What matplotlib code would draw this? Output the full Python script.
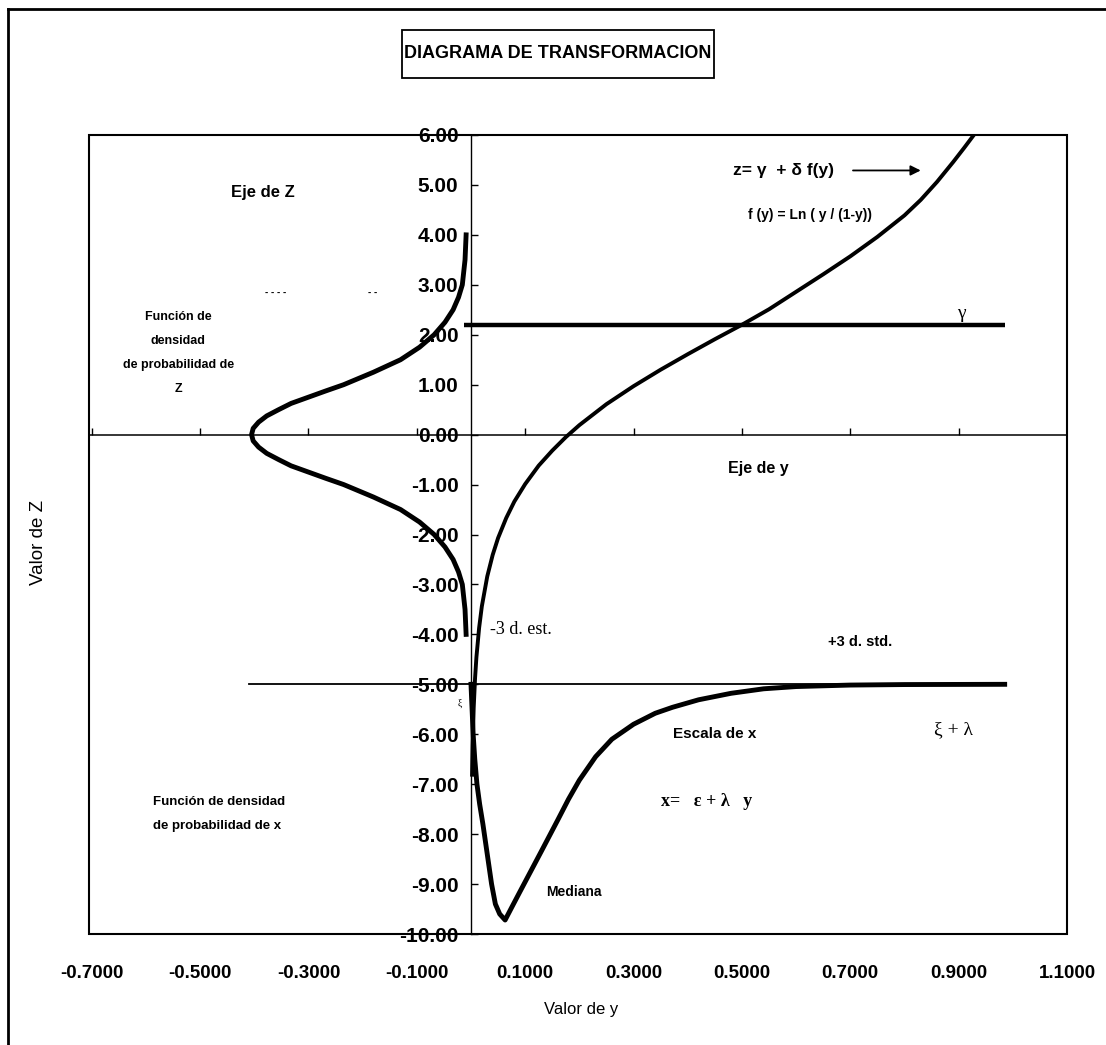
import numpy as np
import matplotlib.pyplot as plt
from matplotlib.lines import Line2D
from matplotlib.patches import Rectangle

SANS = ["Liberation Sans", "DejaVu Sans"]
SERIF = ["Liberation Serif", "DejaVu Serif"]

# ── datos leídos del diagrama ─────────────────────────────────────────────────
# curva de transformación z = γ + δ f(y)
y_trans = [0.002, 0.003, 0.005, 0.0075, 0.01, 0.015, 0.02, 0.03, 0.04, 0.05,
           0.065, 0.08, 0.10, 0.125, 0.15, 0.175, 0.20, 0.25, 0.30, 0.35,
           0.40, 0.45, 0.50, 0.55, 0.60, 0.65, 0.70, 0.75, 0.80, 0.83, 0.86,
           0.89, 0.91, 0.928]
z_trans = [-6.81, -6.22, -5.47, -4.88, -4.46, -3.87, -3.44, -2.84, -2.41, -2.07,
           -1.67, -1.34, -0.99, -0.62, -0.32, -0.05, 0.19, 0.61, 0.97, 1.30,
           1.61, 1.91, 2.20, 2.51, 2.86, 3.21, 3.57, 3.96, 4.39, 4.70, 5.06,
           5.46, 5.74, 6.00]

# densidad de probabilidad de Z (dibujada hacia la izquierda)
z_dens = [-4.0, -3.5, -3.0, -2.75, -2.5, -2.25, -2.0, -1.75, -1.5, -1.25, -1.0,
          -0.875, -0.75, -0.625, -0.5, -0.375, -0.25, -0.125, 0.0, 0.125, 0.25,
          0.375, 0.5, 0.625, 0.75, 0.875, 1.0, 1.25, 1.5, 1.75, 2.0, 2.25,
          2.5, 2.75, 3.0, 3.5, 4.0]
fz_dens = [-0.009, -0.011, -0.016, -0.023, -0.033, -0.048, -0.068, -0.095,
           -0.130, -0.180, -0.235, -0.268, -0.300, -0.332, -0.355, -0.377,
           -0.392, -0.402, -0.405, -0.402, -0.392, -0.377, -0.355, -0.332,
           -0.300, -0.268, -0.235, -0.180, -0.130, -0.095, -0.068, -0.048,
           -0.033, -0.023, -0.016, -0.011, -0.009]

# densidad de probabilidad de x (dibujada hacia abajo desde z = -5)
y_xdens = [0.0, 0.002, 0.004, 0.007, 0.011, 0.016, 0.022, 0.030, 0.038, 0.045,
           0.053, 0.063, 0.075, 0.090, 0.110, 0.130, 0.160, 0.180, 0.200,
           0.230, 0.260, 0.300, 0.340, 0.372, 0.420, 0.480, 0.540, 0.600,
           0.700, 0.800, 0.985]
z_xdens = [-5.0, -5.5, -6.0, -6.5, -7.0, -7.4, -7.8, -8.4, -9.0, -9.4,
           -9.6, -9.72, -9.47, -9.16, -8.75, -8.34, -7.72, -7.30, -6.92,
           -6.45, -6.10, -5.80, -5.58, -5.46, -5.31, -5.18, -5.09, -5.045,
           -5.015, -5.005, -5.0]

gamma = 2.2
y_gamma = [-0.013, 0.985]
z_base = -5.0
y_base = [-0.41, 0.985]

x_ticks = [-0.7, -0.5, -0.3, -0.1, 0.1, 0.3, 0.5, 0.7, 0.9, 1.1]
z_ticks = list(range(-10, 7))

# ── figura ────────────────────────────────────────────────────────────────────
fig = plt.figure(figsize=(11.06, 10.45), dpi=100)
ax = fig.add_axes([89 / 1106, 1 - 934 / 1045, 978 / 1106, 799 / 1045])
ax.set_xlim(-0.705, 1.1)
ax.set_ylim(-10, 6)

for s in ["top", "right", "bottom"]:
    ax.spines[s].set_visible(False)
ax.spines["left"].set_position(("data", 0))
ax.spines["left"].set_linewidth(1.0)
ax.add_patch(Rectangle((0, 0), 1, 1, transform=ax.transAxes, fill=False,
                       lw=1.5, ec="black", clip_on=False, zorder=5))

ax.set_yticks(z_ticks)
ax.set_yticklabels([f"{v:.2f}" for v in z_ticks], family=SANS,
                   fontweight="bold", fontsize=15)
ax.tick_params(axis="y", direction="in", length=5, width=1, pad=9)

ax.set_xticks(x_ticks)
ax.set_xticklabels([f"{v:.4f}" for v in x_ticks], family=SANS,
                   fontweight="bold", fontsize=13.5)
ax.tick_params(axis="x", length=0, pad=22)

# eje horizontal en z = 0 con sus marcas
ax.axhline(0, color="black", lw=1.1)
ax.plot(x_ticks, [0] * len(x_ticks), ls="none", marker=2, ms=5, mew=1,
        color="black", clip_on=True)

# líneas de referencia
ax.plot(y_gamma, [gamma, gamma], color="black", lw=3.2, solid_capstyle="butt")
ax.plot(y_base, [z_base, z_base], color="black", lw=1.3)

# curvas
ax.plot(y_trans, z_trans, color="black", lw=2.8, solid_joinstyle="round")
ax.plot(fz_dens, z_dens, color="black", lw=3.5, solid_joinstyle="round")
ax.plot(y_xdens, z_xdens, color="black", lw=3.5, solid_joinstyle="round")

# textos
kw = dict(family=SANS, fontweight="bold", color="black")
ax.text(-0.385, 4.85, "Eje de Z", ha="center", va="center", fontsize=12,
        **kw)
ax.text(0.483, 5.29, "z= γ  + δ f(y)", ha="left", va="center",
        fontsize=12.5, **kw)
ax.annotate("", xy=(0.83, 5.29), xytext=(0.705, 5.29),
            arrowprops=dict(arrowstyle="-|>", color="black", lw=1.3,
                            mutation_scale=15, shrinkA=0, shrinkB=0))
ax.text(0.626, 4.39, "f (y) = Ln ( y / (1-y))", ha="center", va="center",
        fontsize=10, **kw)
ax.text(0.905, 2.43, "γ", ha="center", va="center", fontsize=14,
        family=SERIF, color="black")
ax.text(-0.36, 2.85, "- - - -", ha="center", va="center", fontsize=7, **kw)
ax.text(-0.182, 2.85, "- -", ha="center", va="center", fontsize=7, **kw)
ax.text(-0.54, 1.64, "Función de\ndensidad\nde probabilidad de\nZ",
        ha="center", va="center", fontsize=9, linespacing=2.35, **kw)
ax.text(0.53, -0.67, "Eje de y", ha="center", va="center", fontsize=11.5,
        **kw)
ax.text(0.035, -3.9, "-3 d. est.", ha="left", va="center", fontsize=13,
        family=SERIF, color="black")
ax.text(0.718, -4.15, "+3 d. std.", ha="center", va="center", fontsize=10.5,
        **kw)
ax.text(-0.02, -5.38, "ξ", ha="center", va="center", fontsize=7,
        family=SERIF, color="black")
ax.text(0.45, -6.0, "Escala de x", ha="center", va="center", fontsize=11,
        **kw)
ax.text(0.89, -5.9, "ξ + λ", ha="center", va="center", fontsize=14,
        family=SERIF, color="black")
ax.text(-0.587, -7.6, "Función de densidad\nde probabilidad de x",
        ha="left", va="center", fontsize=9.5, linespacing=2.4, **kw)
ax.text(0.35, -7.35, "x=   ε + λ   y", ha="left", va="center", fontsize=13,
        family=SERIF, fontweight="bold", color="black")
ax.text(0.19, -9.15, "Mediana", ha="center", va="center", fontsize=10, **kw)

ax.set_xlabel("Valor de y", family=SANS, fontsize=12, labelpad=16)
ax.set_ylabel("Valor de Z", family=SANS, fontsize=13.5)
ax.yaxis.set_label_coords(-42 / 978, 0.49)
ax.xaxis.set_label_coords(0.503, -0.085)

# título y marco exterior
fig.text(558 / 1106, 1 - 54 / 1045, "DIAGRAMA DE TRANSFORMACION",
         ha="center", va="center", fontsize=13, **kw)
fig.add_artist(Rectangle((402 / 1106, 1 - 78 / 1045), 312 / 1106, 48 / 1045,
                         transform=fig.transFigure, fill=False, ec="black",
                         lw=1.3))
fig.add_artist(Line2D([8 / 1106, 1.0], [1 - 9 / 1045, 1 - 9 / 1045],
                      color="black", lw=2))
fig.add_artist(Line2D([8 / 1106, 8 / 1106], [0, 1 - 9 / 1045],
                      color="black", lw=2))

fig.savefig("out.png", dpi=100)
plt.close(fig)
